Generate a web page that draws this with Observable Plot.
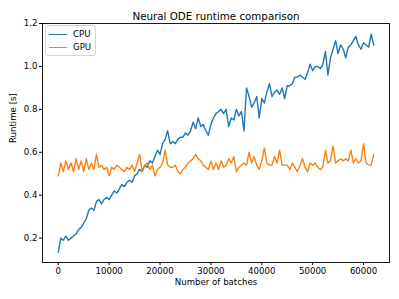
<!DOCTYPE html>
<html>
<head>
<meta charset="utf-8">
<script src="https://cdn.jsdelivr.net/npm/d3@7"></script>
<script src="https://cdn.jsdelivr.net/npm/@observablehq/plot@0.6"></script>
<style>
  body { margin: 0; background: #fff; }
  #wrap { position: relative; width: 399px; height: 299px; font-family: "DejaVu Sans", sans-serif; }
  #legend { position: absolute; left: 45px; top: 25px; width: 49px; height: 29px; border: 1px solid #d5d5d5; border-radius: 3px; background: rgba(255,255,255,0.8); font-size: 8.6px; color: #000; }
  .row { position: absolute; left: 0; height: 12px; display: flex; align-items: center; }
  .sw { position: absolute; left: 3px; width: 18px; height: 1.5px; }
  .lb { position: absolute; left: 27px; white-space: nowrap; line-height: 12px; }
</style>
</head>
<body>
<div id="wrap"></div>
<script>
const title = "Neural ODE runtime comparison";
const xLabel = "Number of batches";
const yLabel = "Runtime [s]";
const seriesNames = ["CPU", "GPU"];
const colors = ["#1f77b4", "#ff7f0e"];
const xTicks = [0, 10000, 20000, 30000, 40000, 50000, 60000];
const yTicks = [0.2, 0.4, 0.6, 0.8, 1.0, 1.2];
// batch numbers (every 500 batches, 0 .. 62000)
const batches = d3.range(0, 62001, 500);
const cpu = [
0.135,0.20,0.19,0.21,0.19,0.20,0.21,0.22,0.24,0.25,
0.27,0.29,0.33,0.34,0.33,0.37,0.38,0.36,0.38,0.39,
0.38,0.40,0.42,0.41,0.43,0.45,0.44,0.46,0.47,0.46,
0.49,0.50,0.52,0.51,0.54,0.53,0.56,0.55,0.58,0.61,
0.59,0.64,0.66,0.70,0.64,0.65,0.64,0.66,0.67,0.67,
0.69,0.68,0.70,0.74,0.71,0.76,0.72,0.73,0.70,0.68,
0.73,0.76,0.78,0.79,0.80,0.78,0.80,0.72,0.76,0.75,
0.80,0.77,0.79,0.70,0.90,0.86,0.81,0.83,0.86,0.76,
0.85,0.83,0.88,0.92,0.86,0.88,0.89,0.87,0.90,0.85,
0.91,0.91,0.92,0.95,0.95,0.96,0.95,0.94,0.97,1.01,
0.98,1.00,1.00,0.99,1.01,1.07,0.96,1.04,1.08,1.12,
1.06,1.10,1.08,1.04,1.09,1.10,1.12,1.14,1.10,1.08,
1.11,1.10,1.09,1.15,1.10];
const gpu = [
0.49,0.55,0.51,0.56,0.52,0.55,0.51,0.57,0.52,0.56,
0.51,0.57,0.52,0.55,0.52,0.59,0.53,0.54,0.52,0.53,
0.49,0.53,0.52,0.54,0.53,0.52,0.51,0.53,0.52,0.54,
0.51,0.55,0.59,0.51,0.54,0.55,0.52,0.54,0.49,0.52,
0.53,0.55,0.61,0.54,0.53,0.53,0.54,0.51,0.50,0.52,
0.53,0.55,0.56,0.57,0.59,0.57,0.56,0.54,0.53,0.52,
0.56,0.52,0.55,0.52,0.56,0.53,0.54,0.57,0.55,0.58,
0.51,0.53,0.54,0.55,0.54,0.60,0.55,0.58,0.54,0.52,
0.56,0.62,0.55,0.54,0.54,0.58,0.55,0.61,0.54,0.54,
0.54,0.52,0.55,0.53,0.51,0.54,0.57,0.53,0.51,0.55,
0.54,0.55,0.53,0.52,0.53,0.61,0.55,0.56,0.63,0.55,
0.56,0.57,0.56,0.57,0.56,0.61,0.55,0.57,0.55,0.56,
0.64,0.55,0.54,0.54,0.59];

const data = [];
batches.forEach((b, i) => {
  if (i < cpu.length) data.push({batch: b, runtime: cpu[i], device: seriesNames[0]});
});
batches.forEach((b, i) => {
  if (i < gpu.length) data.push({batch: b, runtime: gpu[i], device: seriesNames[1]});
});

const fs = "8.6px";
const chart = Plot.plot({
  width: 399,
  height: 299,
  marginLeft: 42,
  marginRight: 10,
  marginTop: 23,
  marginBottom: 37,
  style: {fontFamily: "DejaVu Sans, sans-serif", fontSize: fs, color: "#000", background: "#fff"},
  x: {domain: [-3100, 65100]},
  y: {domain: [0.0865, 1.2]},
  color: {domain: seriesNames, range: colors},
  marks: [
    Plot.line(data, {x: "batch", y: "runtime", stroke: "device", strokeWidth: 1.4, z: "device"}),
    Plot.frame({stroke: "#000", strokeWidth: 0.9}),
    Plot.axisX({ticks: xTicks, tickFormat: d => String(d), tickSize: 3, tickPadding: 2, label: null, fontSize: fs}),
    Plot.axisY({ticks: yTicks, tickFormat: d3.format(".1f"), tickSize: 3, tickPadding: 2, label: null, fontSize: fs}),
    Plot.text([title], {text: d => d, frameAnchor: "top", dy: -11, fontSize: "10.3px"}),
    Plot.text([xLabel], {text: d => d, frameAnchor: "bottom", dy: 22, fontSize: fs}),
    Plot.text([yLabel], {text: d => d, frameAnchor: "left", dx: -29, rotate: -90, fontSize: fs})
  ]
});
const wrap = document.getElementById("wrap");
wrap.appendChild(chart);

const legend = document.createElement("div");
legend.id = "legend";
seriesNames.forEach((name, i) => {
  const row = document.createElement("div");
  row.className = "row";
  row.style.top = (2 + i * 13) + "px";
  const sw = document.createElement("div");
  sw.className = "sw";
  sw.style.background = colors[i];
  sw.style.top = "5.5px";
  const lb = document.createElement("div");
  lb.className = "lb";
  lb.textContent = name;
  row.appendChild(sw);
  row.appendChild(lb);
  legend.appendChild(row);
});
wrap.appendChild(legend);
</script>
</body>
</html>
